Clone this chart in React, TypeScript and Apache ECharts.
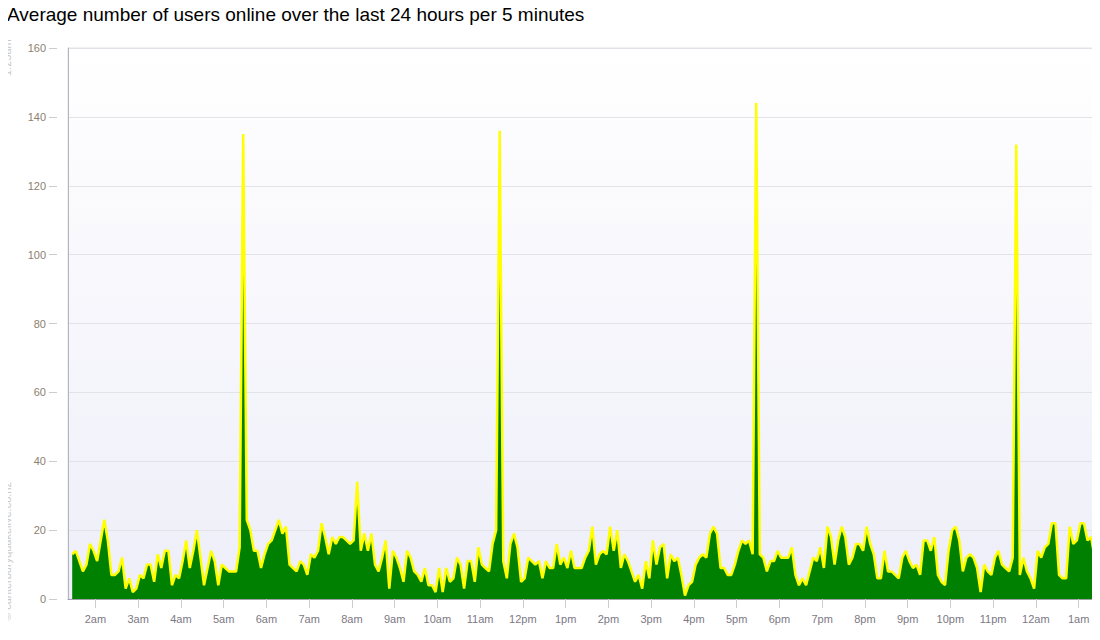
import React, { useEffect, useRef } from "react";
import * as echarts from "echarts";

const TITLE = "Average number of users online over the last 24 hours per 5 minutes";
const START_LABEL = "1:25am";
const CREDIT = "© canterburyquakelive.co.nz";

// users online per 5 minutes, four 6-hour blocks starting 1:25am
const block1 = [
  13, 14, 11, 8, 10, 16, 14, 11, 17, 23,
  17, 7, 7, 8, 12, 3, 6, 2, 3, 7,
  6, 10, 10, 5, 13, 9, 14, 14, 4, 7,
  6, 11, 17, 9, 14, 20, 12, 4, 9, 14,
  11, 4, 10, 9, 8, 8, 8, 15,
  135,
  23, 20, 14, 14, 9, 13, 16, 17, 20, 23, 19,
  21, 10, 9, 8, 11, 10, 7, 13, 12, 14, 22, 18,
];
const block2 = [
  13, 18, 16, 18, 18, 17, 16, 17,
  34, 14, 19, 14, 19, 10, 8, 12, 17, 3,
  14, 12, 9, 5, 14, 12, 8, 7, 5, 9,
  4, 4, 2, 9, 2, 9, 5, 6, 12, 10,
  3, 11, 11, 5, 15, 10, 9, 8, 16, 20,
  136,
  11, 6, 16, 19, 15, 5, 6, 12, 11, 10,
  11, 6, 11, 9, 9, 16, 10, 12, 9, 14, 9, 9, 9,
];
const block3 = [
  12, 14, 21, 10, 13, 14, 13, 21, 14, 20,
  9, 13, 11, 8, 5, 7, 3, 11, 6, 17,
  10, 15, 16, 6, 13, 11, 12, 7, 1, 4,
  5, 10, 12, 13, 12, 19, 21, 19, 9, 9,
  7, 7, 10, 14, 17, 16, 17, 13,
  144,
  13, 12, 8, 11, 11, 14, 12, 12, 12, 15,
  7, 4, 6, 4, 8, 12, 11, 15, 9, 21,
  18, 10, 17,
];
const block4 = [
  21, 18, 10, 12, 16, 16, 14, 21, 16, 13,
  6, 6, 14, 8, 8, 7, 6, 12, 14, 11,
  9, 10, 7, 17, 17, 14, 18, 7, 5, 4,
  14, 20, 21, 17, 8, 12, 13, 12, 9, 2,
  10, 8, 7, 12, 14, 10, 9, 8, 12,
  132,
  7, 12, 8, 6, 3, 14, 12, 15, 16, 22,
  22, 7, 6, 6, 21, 16, 17, 22, 22, 17, 18, 12,
];

const users = [...block1, ...block2, ...block3, ...block4];

// time in minutes after 1:00am; each sample is centred in its 5-minute bin
const FIRST_MINUTE = 27.5;
const STEP_MINUTES = 5;
const hourTicks = [60, 120, 180, 240, 300, 360, 420, 480, 540, 600, 660, 720, 780, 840, 900, 960, 1020, 1080, 1140, 1200, 1260, 1320, 1380, 1440];
const hourLabels = ["2am", "3am", "4am", "5am", "6am", "7am", "8am", "9am", "10am", "11am", "12pm", "1pm", "2pm", "3pm", "4pm", "5pm", "6pm", "7pm", "8pm", "9pm", "10pm", "11pm", "12am", "1am"];

export default function App() {
  const ref = useRef<HTMLDivElement>(null);
  useEffect(() => {
    if (!ref.current) return;
    const chart = echarts.init(ref.current, null, { renderer: "svg" });
    const data = users.map((v, i) => [FIRST_MINUTE + i * STEP_MINUTES, v]);
    const font = "'Liberation Sans', Arial, sans-serif";
    chart.setOption({
      animation: false,
      backgroundColor: "#ffffff",
      title: {
        text: TITLE,
        left: 7,
        top: 5,
        padding: 0,
        textStyle: { fontFamily: font, fontSize: 19, fontWeight: "normal", color: "#000000" },
      },
      grid: {
        left: 68,
        right: 2,
        top: 48,
        bottom: 41,
        show: true,
        borderColor: "#e2e2e2",
        borderWidth: 1,
        backgroundColor: new echarts.graphic.LinearGradient(0, 0, 0, 1, [
          { offset: 0, color: "#ffffff" },
          { offset: 1, color: "#eeeef9" },
        ]),
      },
      xAxis: {
        type: "value",
        min: 21.6,
        max: 1467.2,
        splitLine: { show: false },
        axisLine: { lineStyle: { color: "#a0a0a8", width: 1 } },
        axisTick: { customValues: hourTicks, length: 9, lineStyle: { color: "#cccccc" } },
        axisLabel: {
          customValues: hourTicks,
          formatter: (v: number) => hourLabels[hourTicks.indexOf(Math.round(v))] ?? "",
          color: "#7c7884",
          fontSize: 11,
          fontFamily: font,
          margin: 14,
        },
      },
      yAxis: [
        {
          type: "value",
          min: 0,
          max: 160,
          interval: 20,
          offset: 11,
          axisLine: { show: false },
          axisTick: { show: true, length: 8, lineStyle: { color: "#cccccc" } },
          axisLabel: { color: "#8c8070", fontSize: 11, fontFamily: font, margin: 11 },
          splitLine: { show: true, lineStyle: { color: "#e2e2e8", width: 1 } },
        },
        {
          type: "value",
          min: 0,
          max: 160,
          interval: 20,
          position: "left",
          axisLine: { show: true, lineStyle: { color: "#b4b4c0", width: 1 } },
          axisTick: { show: false },
          axisLabel: { show: false },
          splitLine: { show: false },
        },
      ],
      graphic: [
        {
          type: "text",
          x: 7,
          y: 76,
          rotation: Math.PI / 2,
          style: { text: START_LABEL, fill: "#c8c8c8", font: `11px ${font}`, textAlign: "left", textVerticalAlign: "middle" },
        },
        {
          type: "text",
          x: 7,
          y: 621,
          rotation: Math.PI / 2,
          style: { text: CREDIT, fill: "#c8c8c8", font: `11px ${font}`, textAlign: "left", textVerticalAlign: "middle" },
        },
      ],
      series: [
        {
          type: "line",
          yAxisIndex: 0,
          data,
          symbol: "none",
          lineStyle: { color: "#ffff00", width: 2.5 },
          areaStyle: { color: "#008000", opacity: 1 },
        },
      ],
    });
    return () => chart.dispose();
  }, []);
  return <div ref={ref} style={{ width: 1100, height: 640, margin: -8 }} />;
}
